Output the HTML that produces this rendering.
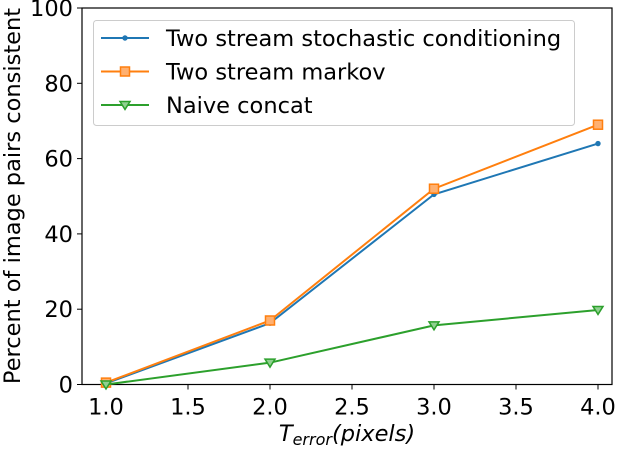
<!DOCTYPE html>
<html><head><meta charset="utf-8"><style>
body{margin:0;background:#fff;width:622px;height:446px;overflow:hidden}
text{font-family:"DejaVu Sans","Liberation Sans",sans-serif;fill:#000}
</style></head><body>
<svg id="chart" width="622" height="446" xmlns="http://www.w3.org/2000/svg"></svg>
<script>
const xValues=[1,2,3,4];
const stochastic=[0.3,16.3,50.5,64];
const markov=[0.5,17,52,69];
const naive=[0,5.8,15.7,19.8];
const xTicks=["1.0","1.5","2.0","2.5","3.0","3.5","4.0"];
const xTickVals=[1,1.5,2,2.5,3,3.5,4];
const yTicks=[0,20,40,60,80,100];
const NS="http://www.w3.org/2000/svg";
const svg=document.getElementById('chart');
const L=82,R=612,T=8,B=384.5;
const FS=22.5;
const xs=v=>106+(v-1)*164;
const ys=v=>B-(v/100)*(B-T);
function mk(tag,attrs,parent){const e=document.createElementNS(NS,tag);for(const k in attrs)e.setAttribute(k,attrs[k]);(parent||svg).appendChild(e);return e;}
xTickVals.forEach((v,i)=>{
  const g=mk('g',{});
  
  
  mk('line',{x1:xs(v),x2:xs(v),y1:B,y2:B+5,stroke:'#000','stroke-width':1},g);
  const t=mk('text',{x:xs(v),y:B+30,'text-anchor':'middle','font-size':FS},g);t.textContent=xTicks[i];
});
yTicks.forEach(v=>{
  const g=mk('g',{});
  
  
  mk('line',{x1:L-5,x2:L,y1:ys(v),y2:ys(v),stroke:'#000','stroke-width':1},g);
  const t=mk('text',{x:L-9,y:ys(v)+8,'text-anchor':'end','font-size':FS},g);t.textContent=v;
});
const frame=mk('rect',{x:L,y:T,width:R-L,height:B-T,fill:'none',stroke:'#000','stroke-width':1.2});


function marker(type,x,y,color,parent){
  if(type==='dot') return mk('circle',{cx:x,cy:y,r:2.7,fill:color},parent);
  if(type==='sq') return mk('rect',{x:x-4.5,y:y-4.5,width:9,height:9,fill:'#ffb070',stroke:color,'stroke-width':1.5},parent);
  return mk('path',{d:`M${x-5},${y-3.5}L${x+5},${y-3.5}L${x},${y+4.5}Z`,fill:'#90d090',stroke:color,'stroke-width':1.5},parent);
}
const series=[[stochastic,'#1f77b4','dot','series-stochastic'],[markov,'#ff7f0e','sq','series-markov'],[naive,'#2ca02c','tri','series-naive']];
series.forEach(([d,c,m,n])=>{
  const g=mk('g',{});
  
  
  mk('polyline',{points:d.map((v,i)=>xs(xValues[i])+','+ys(v)).join(' '),fill:'none',stroke:c,'stroke-width':2},g);
  d.forEach((v,i)=>{const p=marker(m,xs(xValues[i]),ys(v),c,g);});
});
const lg=mk('g',{});


mk('rect',{x:93.5,y:20.5,width:481,height:105,rx:3,fill:'#fff','fill-opacity':0.8,stroke:'#ccc'},lg);
const names=['Two stream stochastic conditioning','Two stream markov','Naive concat'];
series.forEach(([d,c,m],i)=>{
  const y=38+i*33.5;
  const e=mk('g',{},lg);
  
  
  mk('line',{x1:101,x2:149,y1:y,y2:y,stroke:c,'stroke-width':2},e);
  marker(m,125,y,c,e);
  const t=mk('text',{x:166,y:y+8,'font-size':FS},e);t.textContent=names[i];
});
const xt=mk('text',{x:347,y:441,'text-anchor':'middle','font-size':FS,'font-style':'italic'});


xt.innerHTML='T<tspan font-size="16" dy="4">error</tspan><tspan dy="-4">(pixels)</tspan>';
const yt=mk('text',{x:0,y:0,'text-anchor':'middle','font-size':FS,transform:'translate(20,196) rotate(-90)'});


yt.textContent='Percent of image pairs consistent';
</script>
</body></html>
